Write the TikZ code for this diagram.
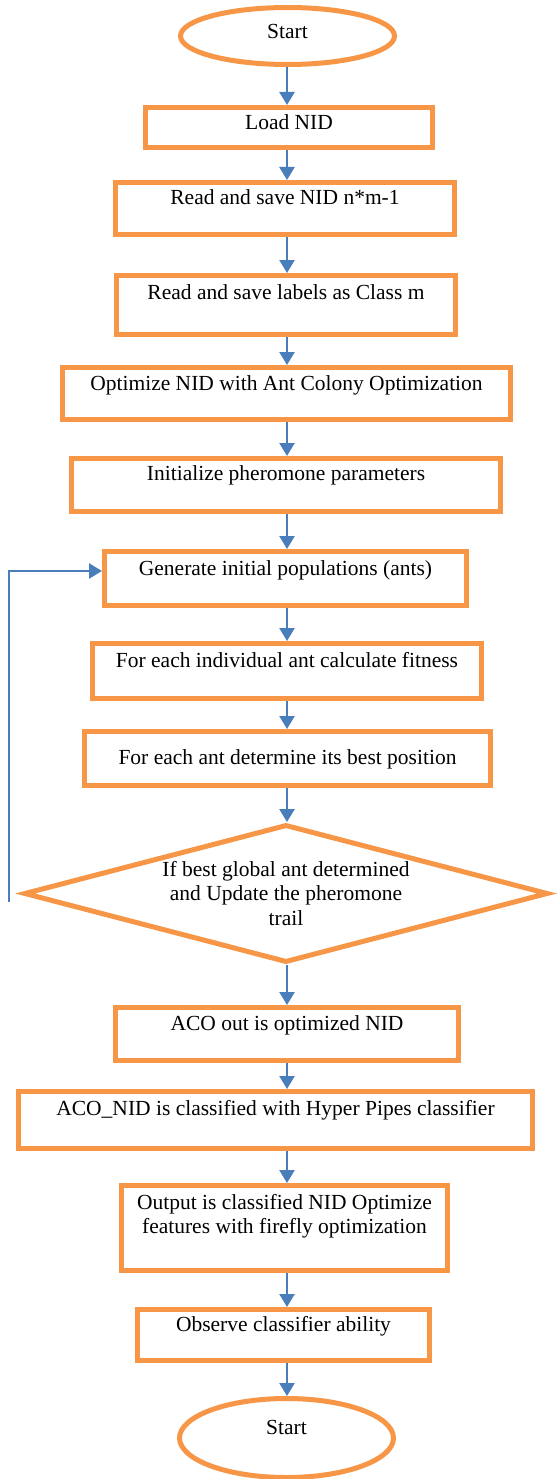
\documentclass[tikz,border=0pt]{standalone}
\usepackage{fontspec}
\setmainfont{Liberation Serif}
\usetikzlibrary{arrows.meta,shapes.geometric}
\definecolor{orng}{HTML}{F79646}
\definecolor{blu}{HTML}{4A7EBB}
\begin{document}
\begin{tikzpicture}[x=1pt,y=-1pt,
  box/.style={draw=orng, line width=5pt, rectangle, inner sep=0pt, anchor=north, font=\fontsize{21.5}{24}\selectfont},
  term/.style={draw=orng, line width=5pt, ellipse, inner sep=0pt, font=\fontsize{21.5}{24}\selectfont},
  arr/.style={draw=blu, line width=2.5pt, -{Triangle[length=13pt,width=15pt]}}]
\useasboundingbox (0,0) rectangle (559,1479);
\coordinate (ax) at (287,0);
\node[term, minimum width=214pt, minimum height=57pt, text height=15pt, text depth=9pt] (start) at (287.5,36) {Start};
\node[box, minimum width=287pt, text height=22.5pt, text depth=17.5pt] (load) at (289,105) {Load NID};
\node[box, minimum width=339pt, text height=22.5pt, text depth=29.5pt] (readnid) at (285,180) {Read and save NID n*m-1};
\node[box, minimum width=339pt, text height=23.5pt, text depth=35.5pt] (labels) at (286,273) {Read and save labels as Class m};
\node[box, minimum width=448pt, text height=22.5pt, text depth=29.5pt] (opt) at (286.5,365) {Optimize NID with Ant Colony Optimization};
\node[box, minimum width=429pt, text height=21.5pt, text depth=31.5pt] (init) at (286,456) {Initialize pheromone parameters};
\node[box, minimum width=362pt, text height=23.5pt, text depth=30.5pt] (gen) at (285.5,549) {Generate initial populations (ants)};
\node[box, minimum width=389pt, text height=23.5pt, text depth=31.5pt] (fit) at (287,641) {For each individual ant calculate fitness};
\node[box, minimum width=406pt, text height=32.5pt, text depth=21.5pt] (best) at (287.5,729) {For each ant determine its best position};
\node[draw=orng, line width=5pt, diamond, aspect=3.8, inner sep=0pt, minimum width=524pt, minimum height=138pt, align=center, font=\fontsize{21.5}{24.5}\selectfont] (dec) at (286,893.5) {If best global ant determined\\and Update the pheromone\\trail};
\node[box, minimum width=343pt, text height=22.5pt, text depth=30.5pt] (aco) at (287,1005) {ACO out is optimized NID};
\node[box, minimum width=514pt, text height=23.5pt, text depth=33.5pt] (aconid) at (275.5,1089) {ACO\_NID is classified with Hyper Pipes classifier};
\node[box, minimum width=326pt, text height=23.5pt, text depth=61.5pt] (out) at (284.5,1183) {\parbox[t]{320pt}{\centering Output is classified NID Optimize\\features with firefly optimization}};
\node[box, minimum width=292pt, text height=21.5pt, text depth=29.5pt] (obs) at (283.5,1307) {Observe classifier ability};
\node[term, minimum width=214pt, minimum height=79pt, text height=15pt, text depth=23pt] (end) at (286.5,1438) {Start};
\draw[arr] (start.south -| ax) -- (load.north -| ax);
\draw[arr] (load.south -| ax) -- (readnid.north -| ax);
\draw[arr] (readnid.south -| ax) -- (labels.north -| ax);
\draw[arr] (labels.south -| ax) -- (opt.north -| ax);
\draw[arr] (opt.south -| ax) -- (init.north -| ax);
\draw[arr] (init.south -| ax) -- (gen.north -| ax);
\draw[arr] (gen.south -| ax) -- (fit.north -| ax);
\draw[arr] (fit.south -| ax) -- (best.north -| ax);
\draw[arr] (best.south -| ax) -- (dec.north -| ax);
\draw[arr] (dec.south -| ax) -- (aco.north -| ax);
\draw[arr] (aco.south -| ax) -- (aconid.north -| ax);
\draw[arr] (aconid.south -| ax) -- (out.north -| ax);
\draw[arr] (out.south -| ax) -- (obs.north -| ax);
\draw[arr] (obs.south -| ax) -- (end.north -| ax);
\coordinate (fb) at (9,902);
\draw[arr] (fb) |- ([yshift=7.5pt]gen.west);
\end{tikzpicture}
\end{document}
